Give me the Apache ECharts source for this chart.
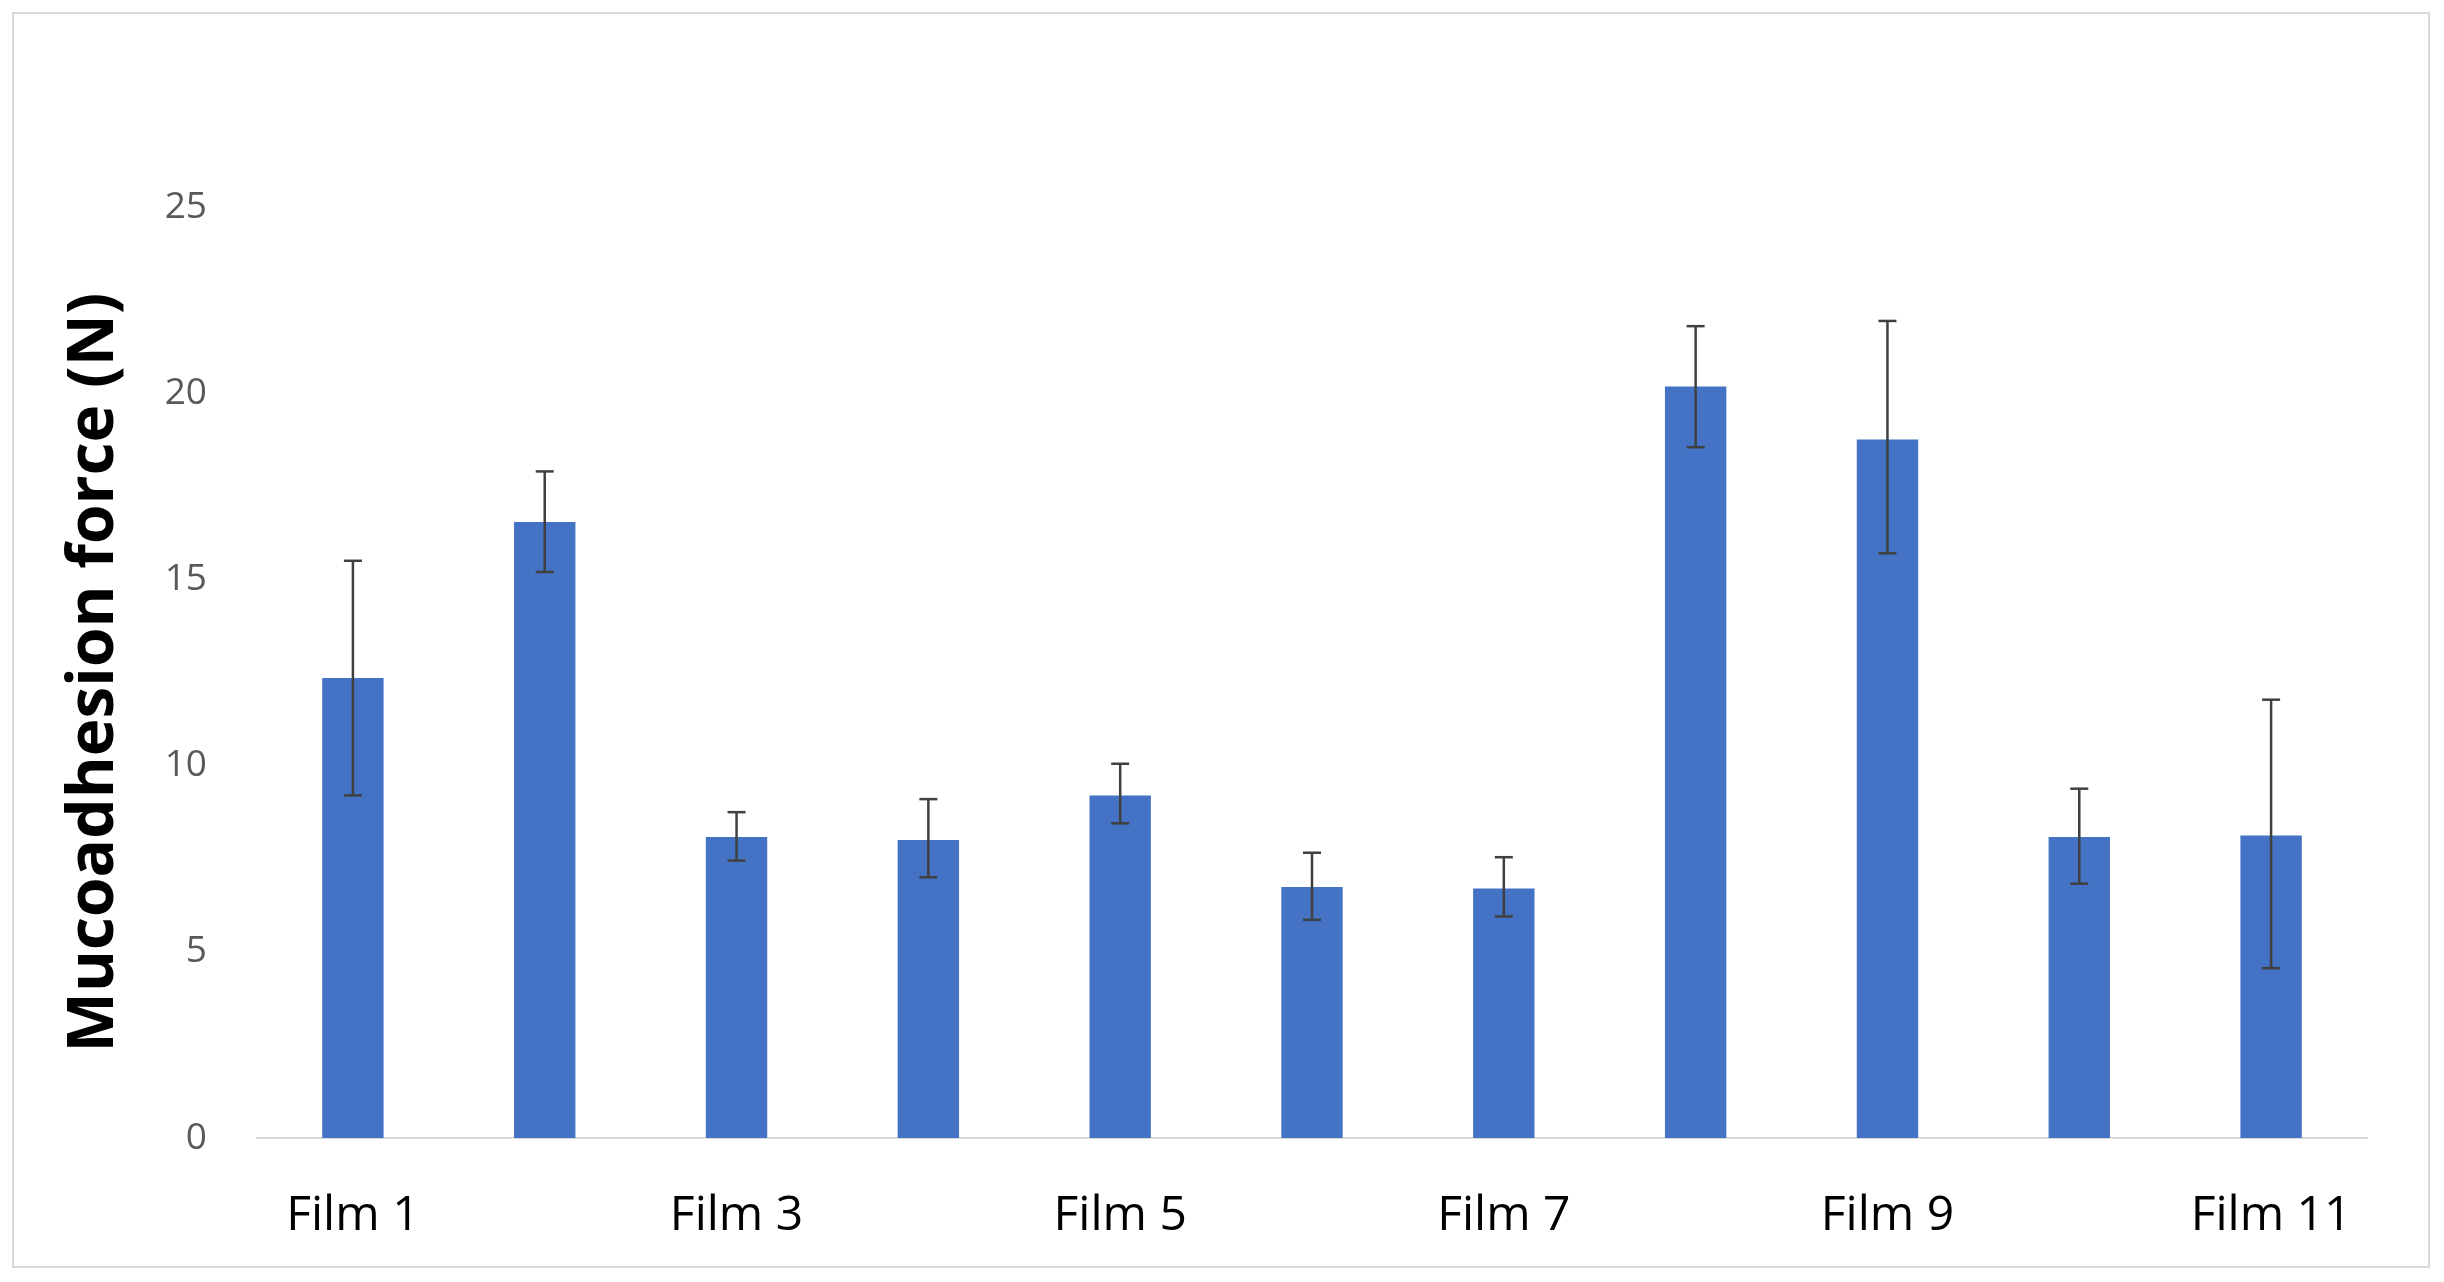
<!DOCTYPE html>
<html><head><meta charset="utf-8">
<script src="https://cdn.jsdelivr.net/npm/echarts@6/dist/echarts.min.js"></script>
<style>html,body{margin:0;padding:0;background:#fff}#frame{position:absolute;left:12px;top:12px;width:2418px;height:1256px;border:2px solid #d9d9d9;box-sizing:border-box}#c{width:2444px;height:1282px}</style>
</head><body><div id="frame"></div><div id="c"></div>
<script>
const categories = ['Film 1','Film 2','Film 3','Film 4','Film 5','Film 6','Film 7','Film 8','Film 9','Film 10','Film 11'];
const means = [12.35,16.54,8.08,8.0,9.2,6.74,6.7,20.18,18.76,8.08,8.12];
const errHigh = [15.5,17.9,8.75,9.1,10.05,7.66,7.54,21.8,21.94,9.38,11.77];
const errLow = [9.2,15.2,7.45,7.0,8.45,5.86,5.95,18.55,15.7,6.83,4.56];
const yTicks = [0,5,10,15,20,25];
const chart = echarts.init(document.getElementById('c'));
chart.setOption({
  animation:false,
  grid:{left:257,right:77,top:207,bottom:144},
  xAxis:{type:'category',data:categories,
    axisLine:{lineStyle:{color:'#d9d9d9',width:2}},axisTick:{show:false},
    axisLabel:{fontFamily:'Open Sans',fontSize:48,color:'#000',margin:54}},
  yAxis:{type:'value',min:yTicks[0],max:yTicks[yTicks.length-1],interval:5,
    name:'Mucoadhesion force (N)',nameLocation:'middle',nameGap:130,
    nameTextStyle:{fontFamily:'Open Sans',fontWeight:'bold',fontSize:64,color:'#000'},
    axisLine:{show:false},axisTick:{show:false},splitLine:{show:false},
    axisLabel:{fontFamily:'Open Sans',fontSize:37,color:'#595959',margin:50}},
  series:[
    {type:'bar',data:means,barWidth:'32%',itemStyle:{color:'#4472C4'}},
    {type:'custom',data:categories.map((c,i)=>[i,errLow[i],errHigh[i]]),z:10,
     renderItem:(p,api)=>{
       const lo=api.coord([api.value(0),api.value(1)]),hi=api.coord([api.value(0),api.value(2)]);
       const w=9,st={stroke:'#404040',lineWidth:2.5};
       return {type:'group',children:[
         {type:'line',shape:{x1:hi[0],y1:hi[1],x2:lo[0],y2:lo[1]},style:st},
         {type:'line',shape:{x1:hi[0]-w,y1:hi[1],x2:hi[0]+w,y2:hi[1]},style:st},
         {type:'line',shape:{x1:lo[0]-w,y1:lo[1],x2:lo[0]+w,y2:lo[1]},style:st}]};
     }}
  ]
});
</script></body></html>
